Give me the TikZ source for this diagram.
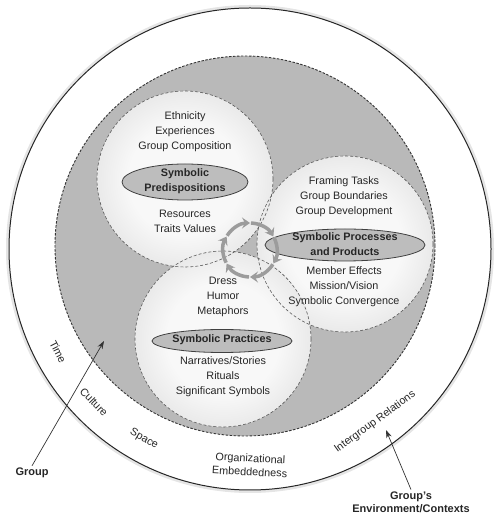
\documentclass[tikz,border=0pt]{standalone}
\usepackage{fontspec}
\setmainfont{Liberation Sans}
\usetikzlibrary{arrows.meta}
\definecolor{groupgray}{HTML}{B9B9B9}
\definecolor{lenscore}{HTML}{F8F8F8}
\definecolor{lensrim}{HTML}{C2C2C2}
\definecolor{coregray}{HTML}{BDBDBD}
\definecolor{inkgray}{HTML}{262626}
\definecolor{cyclegray}{HTML}{9C9C9C}
\pgfdeclareradialshading{lensglow}{\pgfpoint{0bp}{0bp}}{color(0bp)=(lenscore); color(16bp)=(lenscore); color(50bp)=(lensrim)}

\begin{document}
\begin{tikzpicture}[x=1pt,y=1pt,world/.style={draw=black!85,line width=1pt,fill=white},halo/.style={draw=black!10,line width=4pt},groupedge/.style={draw=black!80,line width=0.9pt,dash pattern=on 2.5pt off 1.5pt},lensedge/.style={draw=black!65,line width=0.6pt,dash pattern=on 3pt off 2pt},core/.style={draw=black!75,line width=0.8pt,fill=coregray},txt/.style={font=\fontsize{10.8}{15}\selectfont,align=center,text=inkgray,inner sep=0pt},coretxt/.style={txt,font=\fontsize{10.8}{15}\selectfont\bfseries},ringtxt/.style={txt,font=\fontsize{10.8}{13.5}\selectfont},tag/.style={font=\fontsize{11}{13.5}\selectfont\bfseries,align=center,text=inkgray,inner sep=2pt},pointer/.style={draw=black!80,line width=0.7pt,-{Stealth[length=8pt,width=5.5pt]}},cyclearrow/.style={draw=cyclegray,line width=3.5pt,-{Stealth[length=8pt,width=11pt,inset=3pt]}}]
\useasboundingbox (0,0) rectangle (500,514);
\coordinate (O) at (250,265);
\coordinate (G) at (245,268);
\coordinate (P) at (185,335);
\coordinate (R) at (345,270);
\coordinate (S) at (223,175);
\coordinate (hub) at (250,264);
\coordinate (grptip) at (104,173);
\coordinate (envtip) at (386,84);
\draw[halo] (O) circle[radius=242];
\draw[world] (O) circle[radius=241];
\fill[groupgray] (G) circle[radius=190];
\draw[groupedge] (G) circle[radius=190];
\shade[shading=lensglow] (P) circle[radius=88];
\shade[shading=lensglow] (R) circle[radius=88];
\shade[shading=lensglow] (S) circle[radius=88];
\draw[lensedge] (P) circle[radius=88];
\draw[lensedge] (R) circle[radius=88];
\draw[lensedge] (S) circle[radius=88];
\draw[core] (185,332) ellipse[x radius=63,y radius=18];
\draw[core] (345,269) ellipse[x radius=80,y radius=16];
\draw[core] (222,173) ellipse[x radius=70,y radius=11.5];
\node[txt] (predtop) at (185,382) {Ethnicity\\Experiences\\Group Composition};
\node[coretxt] (pred) at (185,333) {Symbolic\\Predispositions};
\node[txt] (predlow) at (185,293) {Resources\\Traits Values};
\node[txt] (proctop) at (344,317) {Framing Tasks\\Group Boundaries\\Group Development};
\node[coretxt] (proc) at (345,270) {Symbolic Processes\\and Products};
\node[txt] (proclow) at (344,227) {Member Effects\\Mission/Vision\\Symbolic Convergence};
\node[txt] (practop) at (223,217) {Dress\\Humor\\Metaphors};
\node[coretxt] (prac) at (222,174) {Symbolic Practices};
\node[txt] (praclow) at (223,137) {Narratives/Stories\\Rituals\\Significant Symbols};
\node[ringtxt,rotate=-63] (time) at (58,162) {Time};
\node[ringtxt,rotate=-46] (culture) at (94,112) {Culture};
\node[ringtxt,rotate=-30] (space) at (144,75) {Space};
\node[ringtxt,rotate=-3] (embed) at (250,49) {Organizational\\Embeddedness};
\node[ringtxt,rotate=36] (intergroup) at (375,92) {Intergroup Relations};
\node[tag] (grp) at (32,41) {Group};
\node[tag] (env) at (411,11.5) {Group’s\\Environment/Contexts};
\draw[pointer] (grp.north) -- (grptip);
\draw[pointer] (env.north) -- (envtip);
\foreach \a in {90,30,...,-210}
  \draw[cyclearrow] ([shift={({\a+58}:27)}]hub) arc[start angle=\a+58,end angle=\a,radius=27];
\end{tikzpicture}
\end{document}
